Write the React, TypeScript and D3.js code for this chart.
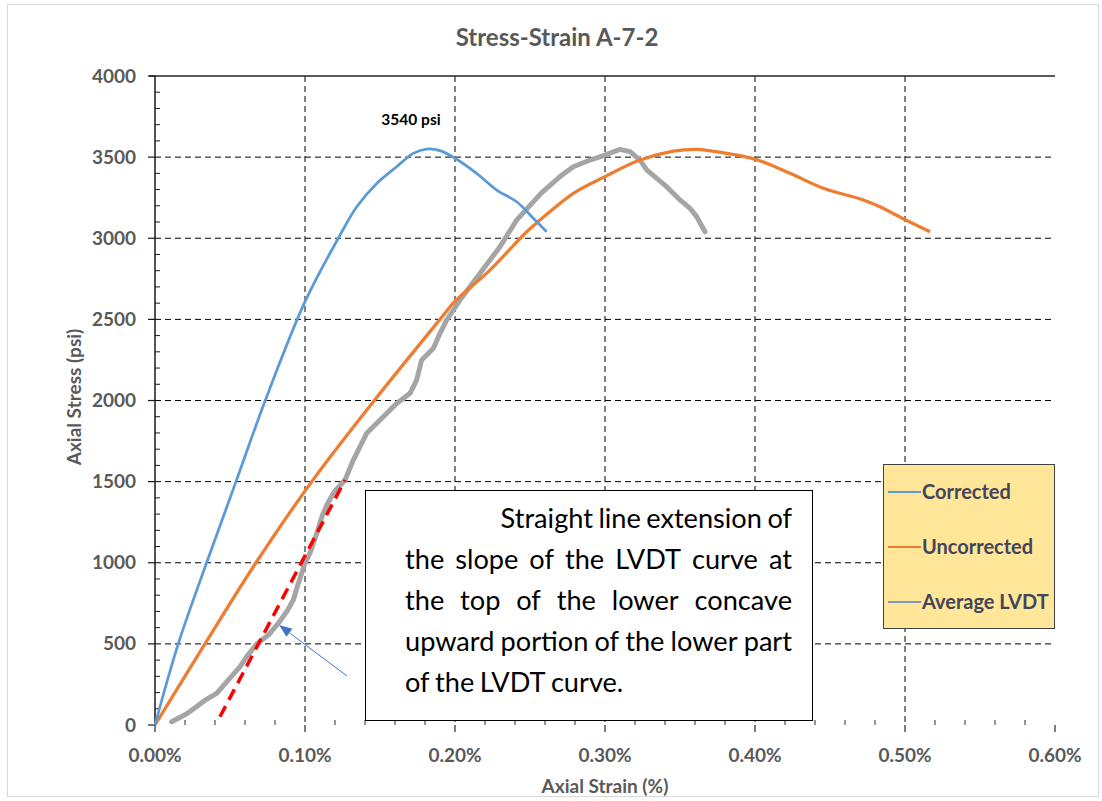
import { useEffect, useRef } from "react";
import * as d3 from "d3";

// values: [strain %, stress psi]
const corrected: [number, number][] = [
  [0, 0], [0.0155, 500], [0.0344, 1000], [0.054, 1500], [0.0735, 2000], [0.1, 2609],
  [0.1222, 3000], [0.1345, 3194], [0.1478, 3338], [0.1611, 3441],
  [0.1722, 3523], [0.1811, 3550], [0.19, 3540], [0.2, 3493], [0.2144, 3400],
  [0.2278, 3297], [0.2411, 3225], [0.2522, 3123], [0.2611, 3040],
];

const uncorrected: [number, number][] = [
  [0, 0], [0.0333, 500], [0.0673, 1000], [0.1045, 1500], [0.1456, 1993], [0.19, 2500],
  [0.2, 2612], [0.2233, 2804], [0.2478, 3040], [0.2567, 3112],
  [0.2789, 3277], [0.3, 3380], [0.3233, 3482], [0.3456, 3537], [0.3611, 3548],
  [0.3811, 3523], [0.4005, 3486], [0.4233, 3400], [0.4456, 3308], [0.4722, 3236],
  [0.4833, 3194], [0.5005, 3112], [0.5167, 3040],
];

const averageLvdt: [number, number][] = [
  [0.0111, 20], [0.0212, 69], [0.0346, 160], [0.0411, 195], [0.0567, 360], [0.0613, 423],
  [0.0678, 499], [0.0759, 557], [0.0822, 627], [0.0881, 703], [0.0922, 770], [0.0948, 850],
  [0.1, 998], [0.1037, 1069], [0.1082, 1191], [0.1115, 1289], [0.1149, 1362],
  [0.1193, 1435], [0.1267, 1510], [0.1322, 1633], [0.1411, 1798], [0.1522, 1900],
  [0.1611, 1982], [0.17, 2044], [0.1744, 2126], [0.1778, 2250], [0.1856, 2322],
  [0.19, 2414], [0.1944, 2496], [0.2033, 2619], [0.2167, 2784], [0.23, 2948],
  [0.2411, 3112], [0.2575, 3278], [0.2709, 3387], [0.2789, 3441], [0.29, 3482],
  [0.3, 3513], [0.31, 3548], [0.3167, 3534], [0.3233, 3482], [0.3278, 3421],
  [0.3345, 3369], [0.3411, 3318], [0.35, 3236], [0.3567, 3184], [0.3611, 3133],
  [0.3667, 3040],
];

const extensionLine: [number, number][] = [[0.0433, 51], [0.1267, 1510]];
const arrowLine: [number, number][] = [[0.128, 302], [0.0827, 616]];

const xTicks = [0, 0.1, 0.2, 0.3, 0.4, 0.5, 0.6];
const yTicks = [0, 500, 1000, 1500, 2000, 2500, 3000, 3500, 4000];

const noteLines = [
  "Straight line extension of",
  "the slope of the LVDT curve at",
  "the top of the lower concave",
  "upward portion of the lower part",
  "of the LVDT curve.",
];

const legendItems = [
  { name: "Corrected", color: "#5b9bd5" },
  { name: "Uncorrected", color: "#ed7d31" },
  { name: "Average LVDT", color: "#8497b8" },
];

const FONT = "Lato, 'Open Sans', sans-serif";

export default function App() {
  const svgRef = useRef<SVGSVGElement>(null);

  useEffect(() => {
    if (!svgRef.current) return;
    const svg = d3.select(svgRef.current);
    svg.selectAll("*").remove();

    const margin = { left: 155, right: 1055, top: 76, bottom: 725 };
    const x = d3.scaleLinear().domain([0, 0.6]).range([margin.left, margin.right]);
    const y = d3.scaleLinear().domain([0, 4000]).range([margin.bottom, margin.top]);

    // outer chart border
    svg.append("rect")
      .attr("x", 7.5).attr("y", 4.5).attr("width", 1091).attr("height", 792)
      .attr("fill", "white").attr("stroke", "#d9d9d9");

    // title
    svg.append("text")
      .attr("x", 557).attr("y", 46)
      .attr("text-anchor", "middle")
      .attr("font-family", FONT).attr("font-weight", 700).attr("font-size", 24)
      .attr("fill", "#595959")
      .text("Stress-Strain A-7-2");

    // grid
    svg.selectAll("line.hgrid")
      .data(yTicks.filter((d) => d > 0 && d < 4000))
      .join("line")
      .attr("x1", margin.left).attr("x2", margin.right)
      .attr("y1", (d) => y(d)).attr("y2", (d) => y(d))
      .attr("stroke", "#000").attr("stroke-width", 1).attr("stroke-dasharray", "6,4");

    svg.selectAll("line.vgrid")
      .data(xTicks.filter((d) => d > 0 && d < 0.6))
      .join("line")
      .attr("x1", (d) => x(d)).attr("x2", (d) => x(d))
      .attr("y1", margin.top).attr("y2", margin.bottom)
      .attr("stroke", "#000").attr("stroke-width", 1).attr("stroke-dasharray", "6,4");

    // top line at 4000
    svg.append("line")
      .attr("x1", margin.left - 6).attr("x2", margin.right)
      .attr("y1", y(4000)).attr("y2", y(4000))
      .attr("stroke", "#262626").attr("stroke-width", 1.5);

    // y axis
    svg.append("line")
      .attr("x1", margin.left).attr("x2", margin.left)
      .attr("y1", margin.top).attr("y2", margin.bottom)
      .attr("stroke", "#1a1a1a").attr("stroke-width", 1.5);

    const yMinor = d3.range(100, 4000, 100).filter((d) => d % 500 !== 0);
    svg.selectAll("line.yminor")
      .data(yMinor)
      .join("line")
      .attr("x1", margin.left).attr("x2", margin.left + 5)
      .attr("y1", (d) => y(d)).attr("y2", (d) => y(d))
      .attr("stroke", "#1a1a1a").attr("stroke-width", 1);

    svg.selectAll("line.ymajor")
      .data(yTicks)
      .join("line")
      .attr("x1", margin.left - 7).attr("x2", margin.left)
      .attr("y1", (d) => y(d)).attr("y2", (d) => y(d))
      .attr("stroke", "#1a1a1a").attr("stroke-width", 1.2);

    svg.selectAll("text.ylab")
      .data(yTicks)
      .join("text")
      .attr("x", 136).attr("y", (d) => y(d) + 6.5)
      .attr("text-anchor", "end")
      .attr("font-family", FONT).attr("font-weight", 700).attr("font-size", 19)
      .attr("fill", "#595959")
      .text((d) => String(d));

    // x axis
    const xMinor = d3.range(1, 30).map((i) => i * 0.02).filter((_, i) => (i + 1) % 5 !== 0);
    svg.selectAll("line.xminor")
      .data(xMinor)
      .join("line")
      .attr("x1", (d) => x(d)).attr("x2", (d) => x(d))
      .attr("y1", margin.bottom).attr("y2", margin.bottom - 5)
      .attr("stroke", "#262626").attr("stroke-width", 1);

    svg.selectAll("line.xmajor")
      .data(xTicks)
      .join("line")
      .attr("x1", (d) => x(d)).attr("x2", (d) => x(d))
      .attr("y1", margin.bottom).attr("y2", margin.bottom + 7)
      .attr("stroke", "#262626").attr("stroke-width", 1.2);

    svg.selectAll("text.xlab")
      .data(xTicks)
      .join("text")
      .attr("x", (d) => x(d)).attr("y", 762)
      .attr("text-anchor", "middle")
      .attr("font-family", FONT).attr("font-weight", 700).attr("font-size", 19)
      .attr("fill", "#595959")
      .text((d) => `${d.toFixed(2)}%`);

    // axis titles
    svg.append("text")
      .attr("x", 605).attr("y", 793)
      .attr("text-anchor", "middle")
      .attr("font-family", FONT).attr("font-weight", 700).attr("font-size", 19)
      .attr("fill", "#595959")
      .text("Axial Strain (%)");

    svg.append("text")
      .attr("transform", "translate(81,397) rotate(-90)")
      .attr("text-anchor", "middle")
      .attr("font-family", FONT).attr("font-weight", 700).attr("font-size", 19)
      .attr("fill", "#595959")
      .text("Axial Stress (psi)");

    // curves
    const smooth = d3.line<[number, number]>()
      .x((d) => x(d[0]))
      .y((d) => y(d[1]))
      .curve(d3.curveCatmullRom.alpha(0.5));
    const straight = d3.line<[number, number]>().x((d) => x(d[0])).y((d) => y(d[1]));

    svg.append("path").datum(averageLvdt)
      .attr("d", straight)
      .attr("fill", "none").attr("stroke", "#a5a5a5").attr("stroke-width", 5)
      .attr("stroke-linejoin", "round").attr("stroke-linecap", "round");

    svg.append("path").datum(uncorrected)
      .attr("d", smooth)
      .attr("fill", "none").attr("stroke", "#ed7d31").attr("stroke-width", 3.25);

    svg.append("path").datum(corrected)
      .attr("d", smooth)
      .attr("fill", "none").attr("stroke", "#5b9bd5").attr("stroke-width", 2.75);

    // red dashed extension line
    svg.append("path").datum(extensionLine)
      .attr("d", straight)
      .attr("fill", "none").attr("stroke", "#ff0000").attr("stroke-width", 3.5)
      .attr("stroke-dasharray", "12,7");

    // peak label
    svg.append("text")
      .attr("x", 411).attr("y", 125)
      .attr("text-anchor", "middle")
      .attr("font-family", FONT).attr("font-weight", 700).attr("font-size", 15.5)
      .attr("fill", "#000")
      .text("3540 psi");

    // arrow
    const [tail, head] = arrowLine.map((d) => [x(d[0]), y(d[1])]);
    const ang = Math.atan2(head[1] - tail[1], head[0] - tail[0]);
    const aLen = 13, aW = 5;
    const base = [head[0] - aLen * Math.cos(ang), head[1] - aLen * Math.sin(ang)];
    svg.append("line")
      .attr("x1", tail[0]).attr("y1", tail[1]).attr("x2", base[0]).attr("y2", base[1])
      .attr("stroke", "#4472c4").attr("stroke-width", 1);
    svg.append("path")
      .attr("d", `M${head[0]},${head[1]}L${base[0] + aW * Math.sin(ang)},${base[1] - aW * Math.cos(ang)}L${base[0] - aW * Math.sin(ang)},${base[1] + aW * Math.cos(ang)}Z`)
      .attr("fill", "#4472c4");

    // note box
    svg.append("rect")
      .attr("x", 365.5).attr("y", 490.5).attr("width", 447).attr("height", 230)
      .attr("fill", "white").attr("stroke", "#000").attr("stroke-width", 1);

    const textLeft = 405, textRight = 792;
    const baselines = [528, 569, 610, 651, 692];
    // size the font so the first line spans the same width as in the picture
    const probe = svg.append("text")
      .attr("font-family", FONT).attr("font-size", 20).text(noteLines[0]);
    const probeW = (probe.node() as SVGTextElement).getComputedTextLength();
    probe.remove();
    const fs = Math.min(28, (20 * 296) / probeW);

    noteLines.forEach((ln, i) => {
      const words = ln.split(" ");
      const g = svg.append("g");
      const nodes = words.map((w) =>
        g.append("text")
          .attr("font-family", FONT).attr("font-size", fs).attr("fill", "#000")
          .attr("y", baselines[i])
          .text(w)
      );
      const widths = nodes.map((n) => (n.node() as SVGTextElement).getComputedTextLength());
      const total = d3.sum(widths);
      const space = fs * 0.2;
      let gap = space;
      let start = textLeft;
      if (i === 0) {
        start = textRight - (total + space * (words.length - 1));
      } else if (i < noteLines.length - 1) {
        gap = (textRight - textLeft - total) / (words.length - 1);
      }
      let cx = start;
      nodes.forEach((n, k) => {
        n.attr("x", cx);
        cx += widths[k] + gap;
      });
    });

    // legend
    const lg = svg.append("g");
    lg.append("rect")
      .attr("x", 883.5).attr("y", 464.5).attr("width", 171).attr("height", 164)
      .attr("fill", "#ffe699").attr("stroke", "#404040").attr("stroke-width", 1);
    const legendY = [492, 547, 602];
    legendItems.forEach((it, i) => {
      lg.append("line")
        .attr("x1", 888).attr("x2", 921)
        .attr("y1", legendY[i]).attr("y2", legendY[i])
        .attr("stroke", it.color).attr("stroke-width", 2);
      lg.append("text")
        .attr("x", 922).attr("y", legendY[i] + 7)
        .attr("font-family", FONT).attr("font-weight", 700).attr("font-size", 20)
        .attr("fill", "#44445a")
        .text(it.name);
    });
  }, []);

  return (
    <svg
      ref={svgRef}
      width={1102}
      height={801}
      style={{ position: "absolute", left: 0, top: 0, background: "white" }}
    />
  );
}
